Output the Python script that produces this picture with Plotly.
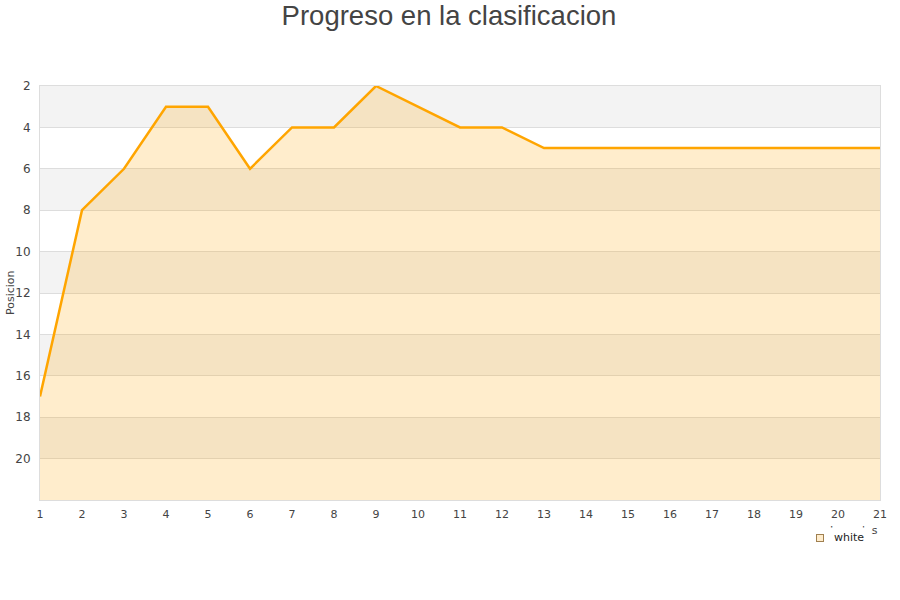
import plotly.graph_objects as go

jornadas = list(range(1, 22))
posicion = [17, 8, 6, 3, 3, 6, 4, 4, 2, 3, 4, 4, 5, 5, 5, 5, 5, 5, 5, 5, 5]
y_ticks = [2, 4, 6, 8, 10, 12, 14, 16, 18, 20]
y_bottom = 22
band_starts = [2, 6, 10, 14, 18]
series_name = "white"

L, T, PW, PH = 40, 86, 840, 414


def px(xs):
    return (xs - L) / PW


def py(ys):
    return 1 - (ys - T) / PH


fig = go.Figure()

# baseline for fill
fig.add_trace(go.Scatter(x=jornadas, y=[y_bottom] * len(jornadas), mode="lines",
                         line=dict(width=0), showlegend=False, hoverinfo="skip"))
fig.add_trace(go.Scatter(x=jornadas, y=posicion, mode="lines", fill="tonexty",
                         fillcolor="rgba(255,165,0,0.2)",
                         line=dict(color="#ffa500", width=2.5),
                         name=series_name, showlegend=False))

shapes = []
for b in band_starts:
    shapes.append(dict(type="rect", xref="paper", yref="y", x0=0, x1=1, y0=b, y1=b + 2,
                       fillcolor="#f3f3f3", line=dict(width=0), layer="below"))

annotations = [
    # y axis title
    dict(text="Posicion", xref="paper", yref="paper", x=px(10), y=py(293),
         xanchor="center", yanchor="middle", showarrow=False, textangle=-90,
         font=dict(size=11, color="#444444")),
    # x axis title (partly hidden behind legend box, as in the reference)
    dict(text="Jornadas", xref="paper", yref="paper", x=px(880), y=py(530),
         xanchor="right", yanchor="middle", showarrow=False,
         font=dict(size=11, color="#444444")),
    # legend box
    dict(text=" ", xref="paper", yref="paper", x=px(841.5), y=py(539),
         xanchor="center", yanchor="middle", showarrow=False, width=59, height=22,
         bgcolor="white", borderpad=0, font=dict(size=4)),
    dict(text=series_name, xref="paper", yref="paper", x=px(832), y=py(537.5),
         xanchor="left", yanchor="middle", showarrow=False,
         font=dict(size=11, color="#222222")),
    dict(text=" ", xref="paper", yref="paper", x=px(819.5), y=py(537.5),
         xanchor="center", yanchor="middle", showarrow=False, width=6, height=6,
         bgcolor="#ffeccc", bordercolor="#a08050", borderwidth=1, borderpad=0,
         font=dict(size=4)),
]

fig.update_layout(
    width=900, height=600,
    margin=dict(l=L, r=900 - L - PW, t=T, b=600 - T - PH, autoexpand=False),
    paper_bgcolor="white", plot_bgcolor="white",
    title=dict(text="Progreso en la clasificacion", x=449 / 900, xanchor="center",
               y=1 - 15 / 600, yanchor="middle",
               font=dict(family="Liberation Sans, Arial", size=27.5, color="#444444")),
    font=dict(family="DejaVu Sans", size=11, color="#444444"),
    shapes=shapes,
    annotations=annotations,
    showlegend=False,
)
fig.update_xaxes(range=[1, 21], tickmode="array", tickvals=jornadas,
                 ticktext=[str(j) for j in jornadas], showgrid=False, zeroline=False,
                 showline=True, linecolor="#dddddd", linewidth=1, mirror=True,
                 ticks="", ticklabelstandoff=4, automargin=False,
                 tickfont=dict(size=11, color="#444444"))
fig.update_yaxes(range=[y_bottom, 2], tickmode="array", tickvals=y_ticks,
                 ticktext=[str(t) for t in y_ticks], showgrid=True, gridcolor="#dddddd",
                 zeroline=False, showline=True, linecolor="#dddddd", linewidth=1, mirror=True,
                 ticks="", ticklabelstandoff=6, automargin=False,
                 tickfont=dict(size=12, color="#444444"))

fig.write_html("out.html", config={"displayModeBar": False},
               post_script="document.body.style.margin='0';")
